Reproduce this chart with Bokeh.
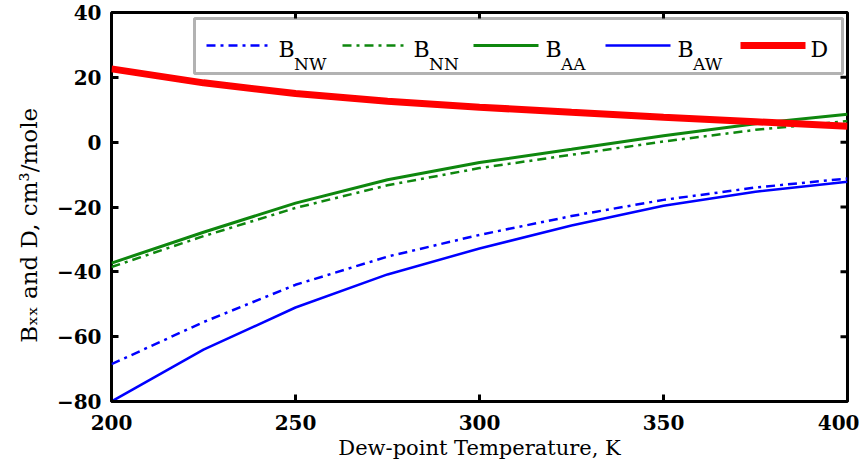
import math
from bokeh.plotting import figure
from bokeh.models import Range1d, FixedTicker, Label, BoxAnnotation, Arrow
from bokeh.embed import file_html
from bokeh.resources import INLINE

# ---- data ----
T = [200, 225, 250, 275, 300, 325, 350, 375, 400]
B_NW = [-68.5, -55.5, -44.0, -35.3, -28.6, -22.8, -17.8, -14.0, -11.2]
B_NN = [-38.5, -29.0, -20.3, -13.3, -8.0, -3.9, 0.2, 3.8, 6.5]
B_AA = [-37.3, -27.8, -18.8, -11.6, -6.3, -2.2, 2.0, 5.7, 8.6]
B_AW = [-80.0, -64.0, -51.0, -40.8, -32.8, -25.7, -19.6, -15.3, -12.2]
D = [22.6, 18.3, 15.0, 12.6, 10.8, 9.2, 7.7, 6.3, 4.9]

x_ticks = [200, 250, 300, 350, 400]
y_ticks = [-80, -60, -40, -20, 0, 20, 40]
X_MIN, X_MAX = 200, 400
Y_MIN, Y_MAX = -80, 40

FONT = "DejaVu Serif"

BLUE = "#0000FF"
GREEN = "#0E870E"
RED = "#FF0000"
DASHDOT = "9 5 3 5"

W, H = 859, 466
FL, FR, FT, FB = 111, 847, 12, 401  # frame edges in canvas pixels

p = figure(width=W, height=H, x_range=Range1d(X_MIN, X_MAX), y_range=Range1d(Y_MIN, Y_MAX),
           output_backend="svg", toolbar_location=None,
           min_border_left=FL, min_border_right=W - FR, min_border_top=FT,
           min_border_bottom=H - FB)
p.background_fill_color = "white"
p.border_fill_color = "white"
p.outline_line_color = "black"
p.outline_line_width = 3
p.xgrid.grid_line_color = None
p.ygrid.grid_line_color = None

for ax, ticks in ((p.xaxis[0], x_ticks), (p.yaxis[0], y_ticks)):
    ax.ticker = FixedTicker(ticks=ticks)
    ax.axis_line_color = None
    ax.major_tick_in = 7
    ax.major_tick_out = 0
    ax.major_tick_line_width = 3
    ax.minor_tick_line_color = None
    ax.major_label_text_font = FONT
    ax.major_label_text_font_size = "20px"
    ax.major_label_text_font_style = "bold"
    ax.major_label_text_color = "black"

p.xaxis.major_label_standoff = 13
p.yaxis.major_label_standoff = 10
p.xaxis.axis_label = "Dew-point Temperature, K"
p.xaxis.axis_label_text_font = FONT
p.xaxis.axis_label_text_font_size = "21px"
p.xaxis.axis_label_text_font_style = "normal"
p.xaxis.axis_label_text_color = "black"
p.xaxis.axis_label_standoff = 3

p.yaxis.axis_label = "B\u2093\u2093 and D, cm\u00b3/mole" + "\u00a0" * 5
p.yaxis.axis_label_text_font = FONT
p.yaxis.axis_label_text_font_size = "23px"
p.yaxis.axis_label_text_font_style = "normal"
p.yaxis.axis_label_text_color = "black"
p.yaxis.axis_label_standoff = 12

# mirrored tick marks on top and right edges (short rays from the frame edge)
p.ray(x=x_ticks, y=[Y_MAX] * len(x_ticks), length=7, length_units="screen",
      angle=-math.pi / 2, line_color="black", line_width=3)
p.ray(x=[X_MAX] * len(y_ticks), y=y_ticks, length=7, length_units="screen",
      angle=math.pi, line_color="black", line_width=3)

# ---- curves ----
p.line(T, B_NW, line_color=BLUE, line_width=2.5, line_dash=DASHDOT)
p.line(T, B_NN, line_color=GREEN, line_width=2.5, line_dash=DASHDOT)
p.line(T, B_AA, line_color=GREEN, line_width=3)
p.line(T, B_AW, line_color=BLUE, line_width=2.5)
p.line(T, D, line_color=RED, line_width=7)

def sx(px):
    return px - FL

def sy(py):
    return FB - py

# ---- legend (drawn by hand so labels can carry subscripts) ----
p.add_layout(BoxAnnotation(left=sx(194), right=sx(842), top=sy(18), bottom=sy(73),
                           left_units="screen", right_units="screen",
                           top_units="screen", bottom_units="screen",
                           fill_color="white", fill_alpha=1.0,
                           line_color="black", line_width=3))

items = [
    (BLUE, 2.5, DASHDOT, 206, 272, "B", "NW", 278),
    (GREEN, 2.5, DASHDOT, 342, 408, "B", "NN", 413),
    (GREEN, 3, "solid", 473, 538, "B", "AA", 545),
    (BLUE, 2.5, "solid", 605, 670, "B", "AW", 677),
    (RED, 7, "solid", 740, 805, "D", "", 810),
]
LEG_Y = 45
for color, lw, dash, x0, x1, main, sub, tx in items:
    p.add_layout(Arrow(x_start=sx(x0), y_start=sy(LEG_Y), x_end=sx(x1), y_end=sy(LEG_Y),
                       start_units="screen", end_units="screen", end=None,
                       line_color=color, line_width=lw, line_dash=dash))
    p.add_layout(Label(x=sx(tx), y=sy(49), x_units="screen", y_units="screen",
                       text=main, text_font=FONT, text_font_size="22px",
                       text_baseline="alphabetic", text_align="left", text_color="black"))
    if sub:
        w_main = 0.686 * 22
        p.add_layout(Label(x=sx(tx + w_main + 0.5), y=sy(63), x_units="screen", y_units="screen",
                           text=sub, text_font=FONT, text_font_size="17px",
                           text_baseline="alphabetic", text_align="left", text_color="black"))

open("out.html", "w").write(file_html(p, INLINE))
